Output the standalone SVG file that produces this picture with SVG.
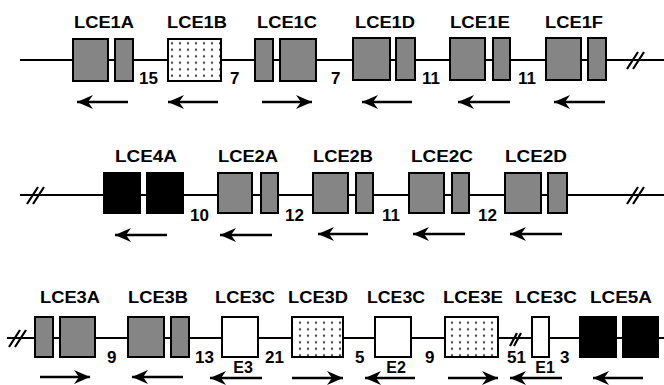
<svg xmlns="http://www.w3.org/2000/svg" width="664" height="385" viewBox="0 0 664 385">
<defs>
<pattern id="dots" width="8" height="6.5" patternUnits="userSpaceOnUse" x="168" y="40">
<rect width="8" height="6.5" fill="#fff"/>
<circle cx="4" cy="3.2" r="1.1" fill="#333"/>
</pattern>
<marker id="ah" markerUnits="userSpaceOnUse" markerWidth="18" markerHeight="14" refX="16" refY="7" orient="auto">
<path d="M0,0 L16,7 L0,14 L5,7 Z" fill="#000"/>
</marker>
<style>
.lbl{font-family:"Liberation Sans",Arial,sans-serif;font-weight:bold;font-size:16px;fill:#000;text-anchor:middle}
.num{font-family:"Liberation Sans",Arial,sans-serif;font-weight:bold;font-size:17px;fill:#000}
.g{fill:#858585;stroke:#000;stroke-width:2}
.b{fill:#000;stroke:#000;stroke-width:2}
.w{fill:#fff;stroke:#000;stroke-width:2}
.d{fill:url(#dots);stroke:#000;stroke-width:2}
.bb{stroke:#000;stroke-width:2;fill:none}
.ar{stroke:#000;stroke-width:2.5;fill:none;marker-end:url(#ah)}
.brk{stroke:#000;stroke-width:2.2;fill:none}
</style>
</defs>
<rect width="664" height="385" fill="#fff"/>
<g id="connectors">
<line class="bb" x1="20" y1="60" x2="664" y2="60"/>
<line class="bb" x1="20" y1="195" x2="664" y2="195"/>
<line class="bb" x1="7" y1="338" x2="664" y2="338"/>
<g id="breaks">
<path class="brk" d="M627,69 L638,52 M633,69 L644,52"/>
<path class="brk" d="M27,204 L38,187 M33,204 L44,187"/>
<path class="brk" d="M627,204 L638,187 M633,204 L644,187"/>
<path class="brk" d="M9,347 L20,330 M15,347 L26,330"/>
<path class="brk" d="M510,346 L517,333 M514,346 L521,333"/>
</g>
</g>

<g id="LCE1A">
<text class="lbl" x="104" y="28" textLength="60" lengthAdjust="spacingAndGlyphs">LCE1A</text>
<rect class="g" x="73" y="39" width="35" height="42"/><rect class="g" x="115" y="39" width="18" height="42"/>
<line class="ar" x1="128" y1="102" x2="77" y2="102"/>
</g>
<g id="LCE1B">
<text class="lbl" x="197" y="28" textLength="60" lengthAdjust="spacingAndGlyphs">LCE1B</text>
<rect class="d" x="168" y="39" width="53" height="42"/>
<line class="ar" x1="218" y1="102" x2="168" y2="102"/>
</g>
<g id="LCE1C">
<text class="lbl" x="287" y="28" textLength="60" lengthAdjust="spacingAndGlyphs">LCE1C</text>
<rect class="g" x="255" y="39" width="18" height="42"/><rect class="g" x="280" y="39" width="36" height="42"/>
<line class="ar" x1="262" y1="102" x2="312" y2="102"/>
</g>
<g id="LCE1D">
<text class="lbl" x="385" y="28" textLength="60" lengthAdjust="spacingAndGlyphs">LCE1D</text>
<rect class="g" x="353" y="38" width="37" height="42"/><rect class="g" x="396" y="38" width="19" height="42"/>
<line class="ar" x1="412" y1="102" x2="362" y2="102"/>
</g>
<g id="LCE1E">
<text class="lbl" x="480" y="28" textLength="60" lengthAdjust="spacingAndGlyphs">LCE1E</text>
<rect class="g" x="450" y="38" width="35" height="42"/><rect class="g" x="493" y="38" width="17" height="42"/>
<line class="ar" x1="510" y1="102" x2="458" y2="102"/>
</g>
<g id="LCE1F">
<text class="lbl" x="574" y="28" textLength="58" lengthAdjust="spacingAndGlyphs">LCE1F</text>
<rect class="g" x="546" y="38" width="35" height="42"/><rect class="g" x="588" y="38" width="18" height="42"/>
<line class="ar" x1="605" y1="102" x2="554" y2="102"/>
</g>
<g id="row1-distances">
<text class="num" x="139" y="84">15</text>
<text class="num" x="230" y="84">7</text>
<text class="num" x="331" y="84">7</text>
<text class="num" x="422" y="84">11</text>
<text class="num" x="518" y="84">11</text>
</g>

<g id="LCE4A">
<text class="lbl" x="146" y="162" textLength="62" lengthAdjust="spacingAndGlyphs">LCE4A</text>
<rect class="b" x="104" y="173" width="36" height="40"/><rect class="b" x="147" y="173" width="36" height="40"/>
<line class="ar" x1="167" y1="235" x2="115" y2="235"/>
</g>
<g id="LCE2A">
<text class="lbl" x="248" y="162" textLength="60" lengthAdjust="spacingAndGlyphs">LCE2A</text>
<rect class="g" x="218" y="173" width="34" height="40"/><rect class="g" x="261" y="173" width="17" height="40"/>
<line class="ar" x1="272" y1="235" x2="220" y2="235"/>
</g>
<g id="LCE2B">
<text class="lbl" x="343" y="162" textLength="60" lengthAdjust="spacingAndGlyphs">LCE2B</text>
<rect class="g" x="313" y="173" width="35" height="40"/><rect class="g" x="356" y="173" width="17" height="40"/>
<line class="ar" x1="368" y1="234" x2="318" y2="234"/>
</g>
<g id="LCE2C">
<text class="lbl" x="442" y="162" textLength="62" lengthAdjust="spacingAndGlyphs">LCE2C</text>
<rect class="g" x="409" y="173" width="35" height="40"/><rect class="g" x="452" y="173" width="17" height="40"/>
<line class="ar" x1="465" y1="234" x2="413" y2="234"/>
</g>
<g id="LCE2D">
<text class="lbl" x="536" y="162" textLength="62" lengthAdjust="spacingAndGlyphs">LCE2D</text>
<rect class="g" x="505" y="173" width="36" height="40"/><rect class="g" x="548" y="173" width="19" height="40"/>
<line class="ar" x1="562" y1="234" x2="510" y2="234"/>
</g>
<g id="row2-distances">
<text class="num" x="190" y="221">10</text>
<text class="num" x="285" y="221">12</text>
<text class="num" x="382" y="221">11</text>
<text class="num" x="478" y="221">12</text>
</g>

<g id="LCE3A">
<text class="lbl" x="70" y="303" textLength="60" lengthAdjust="spacingAndGlyphs">LCE3A</text>
<rect class="g" x="35" y="317" width="18" height="40"/><rect class="g" x="60" y="317" width="35" height="40"/>
<line class="ar" x1="40" y1="377" x2="90" y2="377"/>
</g>
<g id="LCE3B">
<text class="lbl" x="158" y="303" textLength="60" lengthAdjust="spacingAndGlyphs">LCE3B</text>
<rect class="g" x="128" y="317" width="36" height="40"/><rect class="g" x="171" y="317" width="18" height="40"/>
<line class="ar" x1="183" y1="377" x2="132" y2="377"/>
</g>
<g id="LCE3C-E3">
<text class="lbl" x="245" y="303" textLength="60" lengthAdjust="spacingAndGlyphs">LCE3C</text>
<rect class="w" x="222" y="317" width="36" height="40"/>
<text class="lbl" x="243" y="373" font-size="17">E3</text>
<line class="ar" x1="262" y1="378" x2="210" y2="378"/>
</g>
<g id="LCE3D">
<text class="lbl" x="318" y="303" textLength="60" lengthAdjust="spacingAndGlyphs">LCE3D</text>
<rect class="d" x="292" y="317" width="51" height="40"/>
<line class="ar" x1="292" y1="378" x2="343" y2="378"/>
</g>
<g id="LCE3C-E2">
<text class="lbl" x="396" y="303" textLength="58" lengthAdjust="spacingAndGlyphs">LCE3C</text>
<rect class="w" x="375" y="317" width="36" height="40"/>
<text class="lbl" x="396" y="373">E2</text>
<line class="ar" x1="415" y1="378" x2="365" y2="378"/>
</g>
<g id="LCE3E">
<text class="lbl" x="473" y="303" textLength="60" lengthAdjust="spacingAndGlyphs">LCE3E</text>
<rect class="d" x="445" y="317" width="53" height="40"/>
<line class="ar" x1="448" y1="378" x2="498" y2="378"/>
</g>
<g id="LCE3C-E1">
<text class="lbl" x="546" y="303" textLength="62" lengthAdjust="spacingAndGlyphs">LCE3C</text>
<rect class="w" x="532" y="317" width="17" height="40"/>
<text class="lbl" x="545" y="373">E1</text>
<line class="ar" x1="562" y1="378" x2="510" y2="378"/>
</g>
<g id="LCE5A">
<text class="lbl" x="621" y="303" textLength="62" lengthAdjust="spacingAndGlyphs">LCE5A</text>
<rect class="b" x="580" y="317" width="36" height="40"/><rect class="b" x="623" y="317" width="35" height="40"/>
<line class="ar" x1="643" y1="378" x2="593" y2="378"/>
</g>
<g id="row3-distances">
<text class="num" x="107" y="363">9</text>
<text class="num" x="195" y="363">13</text>
<text class="num" x="265" y="363">21</text>
<text class="num" x="355" y="363">5</text>
<text class="num" x="425" y="363">9</text>
<text class="num" x="507" y="363">51</text>
<text class="num" x="560" y="363">3</text>
</g>
</svg>
